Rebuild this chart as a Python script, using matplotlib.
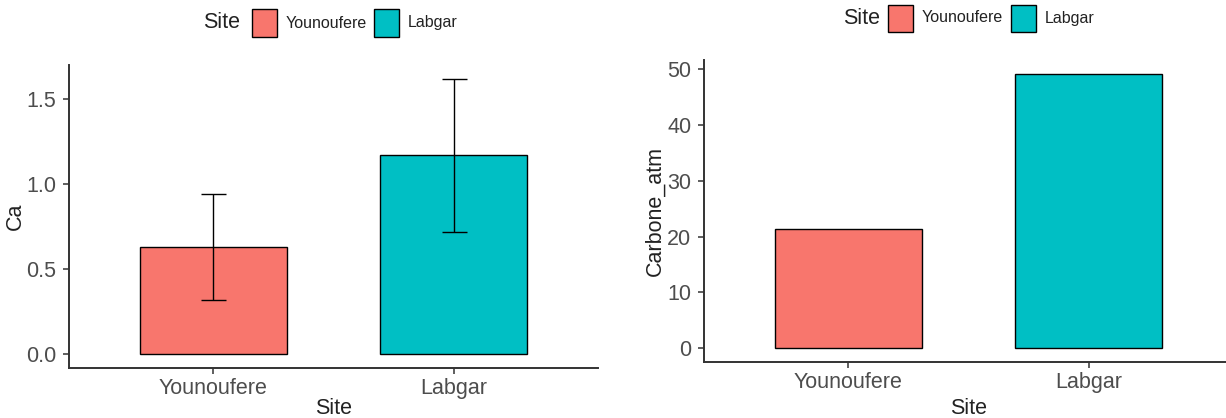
import matplotlib
matplotlib.use("Agg")
import matplotlib.pyplot as plt
from matplotlib.patches import Rectangle
import numpy as np

plt.rcParams['font.family'] = ['Liberation Sans', 'DejaVu Sans']

# ---- data ----
sites = ["Younoufere", "Labgar"]
colors = ["#F8766D", "#00BFC4"]
ca_mean = [0.63, 1.17]
ca_low = [0.32, 0.72]
ca_high = [0.94, 1.62]
carbone_atm = [21.4, 49.2]
legend_title = "Site"

W, H = 1226, 418
fig = plt.figure(figsize=(W / 100, H / 100), dpi=100)

def px_axes(x0, x1, ytop, ybot):
    return fig.add_axes([x0 / W, 1 - ybot / H, (x1 - x0) / W, (ybot - ytop) / H])

TICK_FS = 15.5
TITLE_FS = 15.5
axis_col = "#333333"
tick_col = "#4D4D4D"

def style(ax, ylim, yticks, yticklabels, ylabel, ylab_x, xlab_y):
    x = np.arange(1, len(sites) + 1)
    ax.set_xlim(0.4, len(sites) + 0.6)
    ax.set_ylim(*ylim)
    ax.set_xticks(x)
    ax.set_xticklabels(sites)
    ax.set_yticks(yticks)
    ax.set_yticklabels(yticklabels)
    for s in ["top", "right"]:
        ax.spines[s].set_visible(False)
    for s in ["left", "bottom"]:
        ax.spines[s].set_color(axis_col)
        ax.spines[s].set_linewidth(1.4)
    ax.tick_params(axis="both", length=4, width=1.1, color=axis_col,
                   labelsize=TICK_FS, labelcolor=tick_col)
    ax.tick_params(axis="y", pad=5)
    ax.tick_params(axis="x", pad=3)
    ax.set_ylabel(ylabel, fontsize=TITLE_FS, color="#222222")
    ax.set_xlabel("Site", fontsize=TITLE_FS, color="#222222")
    ax.yaxis.set_label_coords(ylab_x, 0.5)
    ax.xaxis.set_label_coords(0.5, xlab_y)

# ---- left panel ----
ax1 = px_axes(69, 598, 65, 368)
x = np.arange(1, len(sites) + 1)
ax1.bar(x, ca_mean, width=0.61, color=colors, edgecolor="black", linewidth=1.0, zorder=2)
yerr = [np.array(ca_mean) - np.array(ca_low), np.array(ca_high) - np.array(ca_mean)]
ax1.errorbar(x, ca_mean, yerr=yerr, fmt="none", ecolor="black", elinewidth=1.0,
             capsize=9, capthick=1.0, zorder=3)
style(ax1, (-0.081, 1.701), [0.0, 0.5, 1.0, 1.5], ["0.0", "0.5", "1.0", "1.5"],
      "Ca", -0.081, -0.100)

# ---- right panel ----
ax2 = px_axes(704, 1233, 60, 362)
ax2.bar(x, carbone_atm, width=0.61, color=colors, edgecolor="black", linewidth=1.0, zorder=2)
style(ax2, (-2.46, 51.66), [0, 10, 20, 30, 40, 50], ["0", "10", "20", "30", "40", "50"],
      "Carbone_atm", -0.072, -0.120)

# ---- legends (drawn in figure pixel space) ----
def draw_legend(title_x, box_xs, yc):
    fig.text(title_x / W, 1 - yc / H, legend_title, fontsize=15.5, color="#222222",
             ha="left", va="center")
    bw, bh = 25, 27
    for bx, col, lab in zip(box_xs, colors, sites):
        fig.patches.append(Rectangle((bx / W, 1 - (yc + bh / 2) / H), bw / W, bh / H,
                                     transform=fig.transFigure, facecolor=col,
                                     edgecolor="black", linewidth=1.0))
        fig.text((bx + bw + 9) / W, 1 - yc / H, lab, fontsize=11.5, color="#222222",
                 ha="left", va="center")

draw_legend(203, [252, 374], 23)
draw_legend(843, [888, 1011], 18)

fig.savefig("out.png", dpi=100)
